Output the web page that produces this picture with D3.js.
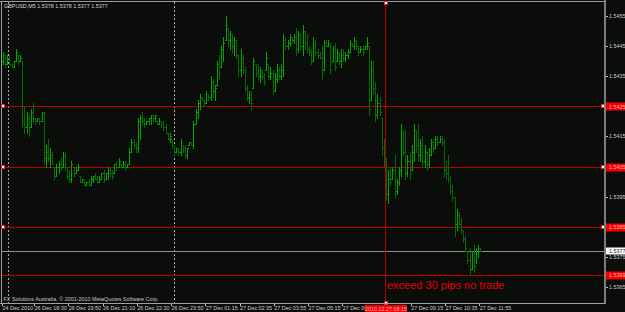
<!DOCTYPE html>
<html>
<head>
<meta charset="utf-8">
<script src="https://cdn.jsdelivr.net/npm/d3@7"></script>
<style>
  html, body { margin: 0; padding: 0; background: #0a0d0a; }
  svg { display: block; }
  text { font-family: "Liberation Sans", Arial, sans-serif; }
</style>
</head>
<body>
<svg id="chart" width="625" height="312"></svg>
<script>
// GBPUSD M5, 24-27 Dec 2010
var symbol = "GBPUSD,M5";
var lastQuote = [1.5378, 1.5378, 1.5377, 1.5377];

// [open, high, low, close] per bar
var bars = [
  [1.5440,1.5443,1.5439,1.5442],[1.5442,1.5442,1.5438,1.5439],[1.5439,1.5442,1.5439,1.5441],[1.5441,1.5442,1.5439,1.5439],
  [1.5439,1.5439,1.5438,1.5438],[1.5438,1.5440,1.5438,1.5440],[1.5440,1.5444,1.5440,1.5443],[1.5442,1.5442,1.5439,1.5440],
  [1.5440,1.5442,1.5440,1.5441],[1.5440,1.5440,1.5418,1.5420],[1.5420,1.5425,1.5416,1.5418],[1.5418,1.5423,1.5416,1.5421],
  [1.5421,1.5422,1.5415,1.5417],[1.5418,1.5424,1.5418,1.5423],[1.5423,1.5426,1.5420,1.5421],[1.5421,1.5421,1.5419,1.5420],
  [1.5420,1.5421,1.5420,1.5421],[1.5421,1.5421,1.5419,1.5420],[1.5420,1.5423,1.5420,1.5423],[1.5423,1.5423,1.5406,1.5408],
  [1.5408,1.5412,1.5405,1.5410],[1.5410,1.5414,1.5407,1.5408],[1.5408,1.5411,1.5405,1.5409],[1.5409,1.5410,1.5406,1.5406],
  [1.5405,1.5405,1.5401,1.5402],[1.5402,1.5406,1.5402,1.5405],[1.5405,1.5407,1.5403,1.5406],[1.5406,1.5408,1.5404,1.5405],
  [1.5405,1.5410,1.5405,1.5409],[1.5409,1.5410,1.5404,1.5405],[1.5405,1.5405,1.5401,1.5402],[1.5402,1.5404,1.5400,1.5401],
  [1.5401,1.5407,1.5400,1.5406],[1.5405,1.5405,1.5402,1.5403],[1.5403,1.5405,1.5403,1.5404],[1.5404,1.5406,1.5404,1.5405],
  [1.5402,1.5402,1.5400,1.5400],[1.5400,1.5401,1.5400,1.5401],[1.5401,1.5401,1.5399,1.5399],[1.5399,1.5400,1.5399,1.5400],
  [1.5400,1.5401,1.5399,1.5399],[1.5399,1.5402,1.5399,1.5401],[1.5401,1.5402,1.5400,1.5402],[1.5402,1.5403,1.5401,1.5401],
  [1.5401,1.5402,1.5400,1.5400],[1.5400,1.5402,1.5400,1.5401],[1.5401,1.5403,1.5401,1.5403],[1.5403,1.5404,1.5400,1.5401],
  [1.5401,1.5403,1.5401,1.5403],[1.5403,1.5405,1.5401,1.5404],[1.5404,1.5405,1.5402,1.5403],[1.5403,1.5404,1.5401,1.5402],
  [1.5403,1.5406,1.5403,1.5406],[1.5406,1.5407,1.5404,1.5405],[1.5405,1.5408,1.5405,1.5407],[1.5406,1.5406,1.5405,1.5405],
  [1.5405,1.5407,1.5405,1.5406],[1.5406,1.5407,1.5404,1.5405],[1.5405,1.5406,1.5405,1.5406],[1.5406,1.5411,1.5406,1.5410],
  [1.5410,1.5414,1.5410,1.5413],[1.5413,1.5414,1.5411,1.5412],[1.5412,1.5413,1.5410,1.5411],[1.5411,1.5421,1.5410,1.5420],
  [1.5420,1.5422,1.5414,1.5421],[1.5421,1.5423,1.5419,1.5420],[1.5420,1.5421,1.5418,1.5419],[1.5419,1.5420,1.5419,1.5420],
  [1.5420,1.5421,1.5419,1.5421],[1.5421,1.5422,1.5419,1.5422],[1.5422,1.5422,1.5420,1.5421],[1.5421,1.5422,1.5420,1.5422],
  [1.5420,1.5420,1.5419,1.5419],[1.5419,1.5421,1.5419,1.5420],[1.5420,1.5420,1.5418,1.5419],[1.5419,1.5420,1.5417,1.5418],
  [1.5418,1.5419,1.5416,1.5416],[1.5416,1.5416,1.5414,1.5414],[1.5414,1.5416,1.5413,1.5415],[1.5414,1.5414,1.5411,1.5412],
  [1.5412,1.5412,1.5409,1.5410],[1.5410,1.5411,1.5410,1.5411],[1.5411,1.5411,1.5409,1.5410],[1.5410,1.5414,1.5409,1.5413],
  [1.5413,1.5412,1.5410,1.5411],[1.5411,1.5412,1.5408,1.5409],[1.5409,1.5411,1.5408,1.5411],[1.5412,1.5413,1.5412,1.5413],
  [1.5413,1.5413,1.5412,1.5412],[1.5412,1.5420,1.5411,1.5419],[1.5419,1.5424,1.5419,1.5423],[1.5423,1.5427,1.5421,1.5426],
  [1.5426,1.5429,1.5424,1.5428],[1.5428,1.5428,1.5427,1.5427],[1.5427,1.5427,1.5425,1.5426],[1.5426,1.5430,1.5426,1.5429],
  [1.5429,1.5429,1.5427,1.5428],[1.5428,1.5435,1.5427,1.5433],[1.5433,1.5434,1.5428,1.5430],[1.5430,1.5432,1.5427,1.5431],
  [1.5432,1.5440,1.5432,1.5439],[1.5439,1.5442,1.5434,1.5436],[1.5438,1.5445,1.5438,1.5444],[1.5444,1.5448,1.5440,1.5446],
  [1.5447,1.5455,1.5447,1.5452],[1.5451,1.5451,1.5445,1.5447],[1.5447,1.5450,1.5444,1.5449],[1.5449,1.5449,1.5443,1.5445],
  [1.5445,1.5448,1.5442,1.5447],[1.5447,1.5447,1.5441,1.5442],[1.5442,1.5442,1.5435,1.5437],[1.5437,1.5444,1.5435,1.5441],
  [1.5441,1.5442,1.5436,1.5437],[1.5437,1.5438,1.5430,1.5431],[1.5431,1.5432,1.5427,1.5428],[1.5428,1.5430,1.5426,1.5429],
  [1.5429,1.5430,1.5424,1.5426],[1.5431,1.5441,1.5431,1.5440],[1.5439,1.5439,1.5435,1.5436],[1.5436,1.5439,1.5434,1.5435],
  [1.5435,1.5438,1.5433,1.5437],[1.5437,1.5437,1.5434,1.5435],[1.5435,1.5436,1.5432,1.5433],[1.5437,1.5443,1.5437,1.5441],
  [1.5439,1.5439,1.5434,1.5435],[1.5435,1.5438,1.5434,1.5436],[1.5436,1.5437,1.5429,1.5430],[1.5430,1.5436,1.5430,1.5434],
  [1.5434,1.5439,1.5433,1.5437],[1.5437,1.5438,1.5434,1.5435],[1.5435,1.5439,1.5434,1.5437],[1.5437,1.5449,1.5435,1.5447],
  [1.5447,1.5448,1.5444,1.5445],[1.5445,1.5447,1.5444,1.5446],[1.5446,1.5449,1.5445,1.5448],[1.5448,1.5448,1.5446,1.5447],
  [1.5447,1.5449,1.5446,1.5448],[1.5448,1.5451,1.5442,1.5444],[1.5444,1.5450,1.5443,1.5449],[1.5449,1.5449,1.5444,1.5445],
  [1.5445,1.5452,1.5442,1.5450],[1.5450,1.5450,1.5444,1.5446],[1.5446,1.5449,1.5443,1.5444],[1.5444,1.5445,1.5442,1.5443],
  [1.5443,1.5444,1.5439,1.5440],[1.5440,1.5448,1.5440,1.5446],[1.5446,1.5447,1.5442,1.5443],[1.5443,1.5444,1.5441,1.5442],
  [1.5442,1.5443,1.5441,1.5441],[1.5441,1.5445,1.5434,1.5436],[1.5437,1.5447,1.5437,1.5446],[1.5446,1.5447,1.5445,1.5445],
  [1.5445,1.5447,1.5445,1.5446],[1.5446,1.5446,1.5436,1.5437],[1.5440,1.5445,1.5440,1.5444],[1.5444,1.5446,1.5437,1.5438],
  [1.5440,1.5444,1.5440,1.5443],[1.5443,1.5443,1.5439,1.5440],[1.5440,1.5444,1.5438,1.5442],[1.5442,1.5444,1.5440,1.5441],
  [1.5441,1.5443,1.5440,1.5442],[1.5442,1.5444,1.5441,1.5443],[1.5443,1.5447,1.5443,1.5446],[1.5446,1.5446,1.5445,1.5445],
  [1.5445,1.5448,1.5444,1.5447],[1.5447,1.5447,1.5444,1.5445],[1.5445,1.5445,1.5442,1.5443],[1.5443,1.5445,1.5443,1.5444],
  [1.5444,1.5445,1.5442,1.5443],[1.5444,1.5445,1.5444,1.5445],[1.5445,1.5448,1.5444,1.5446],[1.5445,1.5445,1.5422,1.5424],
  [1.5427,1.5440,1.5427,1.5437],[1.5437,1.5440,1.5429,1.5431],[1.5431,1.5433,1.5420,1.5422],[1.5422,1.5429,1.5421,1.5426],
  [1.5426,1.5428,1.5422,1.5423],[1.5421,1.5421,1.5409,1.5411],[1.5411,1.5414,1.5405,1.5407],[1.5407,1.5408,1.5394,1.5396],
  [1.5396,1.5404,1.5393,1.5401],[1.5401,1.5405,1.5399,1.5400],[1.5401,1.5405,1.5401,1.5404],[1.5404,1.5409,1.5395,1.5397],
  [1.5397,1.5401,1.5396,1.5400],[1.5400,1.5405,1.5399,1.5404],[1.5404,1.5419,1.5402,1.5416],[1.5416,1.5417,1.5409,1.5410],
  [1.5410,1.5417,1.5401,1.5403],[1.5403,1.5409,1.5402,1.5407],[1.5407,1.5410,1.5401,1.5404],[1.5404,1.5412,1.5404,1.5410],
  [1.5410,1.5419,1.5407,1.5417],[1.5417,1.5417,1.5410,1.5412],[1.5412,1.5419,1.5407,1.5409],[1.5409,1.5414,1.5407,1.5412],
  [1.5412,1.5415,1.5405,1.5407],[1.5407,1.5412,1.5405,1.5410],[1.5410,1.5410,1.5404,1.5406],[1.5406,1.5411,1.5405,1.5409],
  [1.5409,1.5414,1.5409,1.5413],[1.5413,1.5414,1.5410,1.5411],[1.5411,1.5415,1.5411,1.5414],[1.5414,1.5415,1.5412,1.5413],
  [1.5413,1.5415,1.5413,1.5414],[1.5414,1.5415,1.5412,1.5413],[1.5413,1.5414,1.5402,1.5404],[1.5404,1.5407,1.5401,1.5403],
  [1.5403,1.5409,1.5400,1.5401],[1.5401,1.5402,1.5396,1.5397],[1.5397,1.5399,1.5394,1.5395],[1.5395,1.5395,1.5382,1.5386],
  [1.5386,1.5391,1.5384,1.5389],[1.5389,1.5390,1.5385,1.5386],[1.5386,1.5388,1.5383,1.5384],[1.5384,1.5384,1.5380,1.5381],
  [1.5381,1.5382,1.5377,1.5378],[1.5377,1.5377,1.5373,1.5374],[1.5374,1.5378,1.5369,1.5371],[1.5371,1.5377,1.5371,1.5376],
  [1.5376,1.5379,1.5370,1.5372],[1.5372,1.5378,1.5373,1.5377],[1.5377,1.5379,1.5375,1.5378],[1.5378,1.5378,1.5377,1.5377]
];

var priceTicks = [1.5455, 1.5445, 1.5435, 1.5415, 1.5395, 1.5375, 1.5365];
var levels = [1.5425, 1.5405, 1.5385, 1.5369];
var selectedLevels = [1.5425, 1.5405, 1.5385];
var bidPrice = 1.5377;

// [bar index, label]
var timeTicks = [
  [0, "24 Dec 2010"], [15, "26 Dec 18:30"], [31, "26 Dec 19:50"], [47, "26 Dec 21:10"],
  [63, "26 Dec 22:30"], [79, "26 Dec 23:50"], [95, "27 Dec 01:15"], [111, "27 Dec 02:35"],
  [127, "27 Dec 03:55"], [143, "27 Dec 05:15"], [159, "27 Dec 06:35"], [191, "27 Dec 09:15"],
  [207, "27 Dec 10:35"], [223, "27 Dec 11:55"]
];
var daySeparators = [2.5, 80];
var cursorBar = 178.6, cursorLabel = "2010.12.27 08:15";
var note = "exceed 30 pips no trade";
var copyright = "FX Solutions Australia, \u00a9 2001-2010 MetaQuotes Software Corp.";

var W = 625, H = 312, axisX = 605, axisY = 303;
var svg = d3.select("#chart");

var x = d3.scaleLinear().domain([0, bars.length - 1]).range([3, 480.2]);
var y = d3.scaleLinear().domain([1.5365, 1.5455]).range([287, 16]);
var px = v => Math.round(v) + 0.5;

svg.append("rect").attr("width", W).attr("height", H).attr("fill", "#0a0d0a");

// frame
var frame = svg.append("g").attr("fill", "none").attr("shape-rendering", "crispEdges");
frame.append("line").attr("x1", 0).attr("x2", axisX).attr("y1", 1.5).attr("y2", 1.5).attr("stroke", "#9c9c9c");
frame.append("line").attr("x1", 1.5).attr("x2", 1.5).attr("y1", 1).attr("y2", axisY).attr("stroke", "#9c9c9c");

// day separators
svg.selectAll(".sep").data(daySeparators).enter().append("line")
  .attr("x1", d => px(x(d))).attr("x2", d => px(x(d)))
  .attr("y1", 2).attr("y2", axisY)
  .attr("stroke", "#a8a8a8").attr("stroke-dasharray", "2,2").attr("shape-rendering", "crispEdges");

// horizontal level lines
svg.selectAll(".lvl").data(levels).enter().append("line")
  .attr("x1", 2).attr("x2", axisX)
  .attr("y1", d => px(y(d))).attr("y2", d => px(y(d)))
  .attr("stroke", "#c00000").attr("shape-rendering", "crispEdges");

// bid line
svg.append("line").attr("x1", 2).attr("x2", axisX)
  .attr("y1", px(y(bidPrice))).attr("y2", px(y(bidPrice)))
  .attr("stroke", "#8e8e8e").attr("shape-rendering", "crispEdges");

// OHLC bars
var g = svg.append("g").attr("shape-rendering", "crispEdges");
var b = g.selectAll("g").data(bars).enter().append("g")
  .attr("stroke", d => d[3] >= d[0] ? "#00a600" : "#006c00");
b.append("line")
  .attr("x1", (d, i) => px(x(i))).attr("x2", (d, i) => px(x(i)))
  .attr("y1", d => Math.round(y(d[1]))).attr("y2", d => Math.round(y(d[2])) + 1);
b.append("line")
  .attr("x1", (d, i) => Math.round(x(i)) - 1).attr("x2", (d, i) => Math.round(x(i)))
  .attr("y1", d => px(y(d[0]))).attr("y2", d => px(y(d[0])));
b.append("line")
  .attr("x1", (d, i) => Math.round(x(i)) + 1).attr("x2", (d, i) => Math.round(x(i)) + 2)
  .attr("y1", d => px(y(d[3]))).attr("y2", d => px(y(d[3])));

// crosshair vertical line
var cx = px(x(cursorBar));
svg.append("line").attr("x1", cx).attr("x2", cx).attr("y1", 2).attr("y2", axisY)
  .attr("stroke", "#b30000").attr("shape-rendering", "crispEdges");

// selection handles
var handles = [];
selectedLevels.forEach(v => { handles.push([3, y(v)]); handles.push([603, y(v)]); });
handles.push([cx, 2.5]); handles.push([cx, axisY]);
svg.selectAll(".hdl").data(handles).enter().append("rect")
  .attr("x", d => Math.round(d[0]) - 1.5).attr("y", d => Math.round(d[1]) - 1.5)
  .attr("width", 3).attr("height", 3)
  .attr("fill", "#ffffff").attr("stroke", "#e03030").attr("stroke-width", 1);

// axes lines
svg.append("line").attr("x1", axisX).attr("x2", axisX).attr("y1", 0).attr("y2", axisY + 1)
  .attr("stroke", "#7c7c7c").attr("stroke-width", 2).attr("shape-rendering", "crispEdges");
svg.append("line").attr("x1", 0).attr("x2", axisX).attr("y1", axisY + 0.5).attr("y2", axisY + 0.5)
  .attr("stroke", "#a0a0a0").attr("shape-rendering", "crispEdges");

// price labels
var fs = 5.4;
var pt = svg.selectAll(".pt").data(priceTicks).enter().append("g");
pt.append("line").attr("x1", axisX + 1).attr("x2", axisX + 3)
  .attr("y1", d => px(y(d))).attr("y2", d => px(y(d))).attr("stroke", "#c0c0c0");
pt.append("text").attr("x", 609).attr("y", d => y(d) + 2)
  .attr("font-size", fs).attr("fill", "#d0d0d0").text(d => d.toFixed(4));

// red level labels
var rl = svg.selectAll(".rl").data(levels).enter().append("g");
rl.append("rect").attr("x", 606).attr("y", d => Math.round(y(d)) - 3.5).attr("width", 19).attr("height", 8)
  .attr("fill", "#f40000");
rl.append("text").attr("x", 609).attr("y", d => y(d) + 2.2)
  .attr("font-size", fs).attr("fill", "#ffb8b8").text(d => d.toFixed(4));

// bid label
svg.append("rect").attr("x", 606).attr("y", Math.round(y(bidPrice)) - 3.5).attr("width", 19).attr("height", 7)
  .attr("fill", "#ffffff");
svg.append("text").attr("x", 609).attr("y", y(bidPrice) + 2)
  .attr("font-size", fs).attr("fill", "#202020").text(bidPrice.toFixed(4));

// time labels; the crosshair label box hides whatever runs under it
var boxX = 365;
svg.append("clipPath").attr("id", "timeclip").append("rect")
  .attr("x", 0).attr("y", axisY).attr("width", boxX).attr("height", H - axisY);
var tt = svg.selectAll(".tt").data(timeTicks).enter().append("g");
tt.append("line").attr("x1", d => px(x(d[0]) - 1)).attr("x2", d => px(x(d[0]) - 1))
  .attr("y1", axisY + 1).attr("y2", axisY + 3).attr("stroke", "#c0c0c0");
tt.append("text").attr("x", d => x(d[0]) - 0.5).attr("y", 310)
  .attr("font-size", fs).attr("fill", "#d0d0d0")
  .attr("clip-path", d => x(d[0]) < boxX && x(d[0]) + 30 > boxX ? "url(#timeclip)" : null)
  .text(d => d[1]);

// crosshair time label
svg.append("rect").attr("x", boxX).attr("y", 305).attr("width", 42).attr("height", 7).attr("fill", "#f40000");
svg.append("text").attr("x", 386).attr("y", 310.5).attr("text-anchor", "middle")
  .attr("font-size", fs).attr("fill", "#ffb8b8").text(cursorLabel);

// header, copyright, note
svg.append("text").attr("x", 4).attr("y", 7.6).attr("font-size", fs).attr("fill", "#d4d4d4")
  .text(symbol + "  " + lastQuote.map(v => v.toFixed(4)).join(" "));
svg.append("text").attr("x", 3.5).attr("y", 300.6).attr("font-size", fs).attr("fill", "#c8c8c8")
  .text(copyright);
svg.append("text").attr("x", 387).attr("y", 289).attr("font-size", 11).attr("fill", "#e40000")
  .text(note);
</script>
</body>
</html>
